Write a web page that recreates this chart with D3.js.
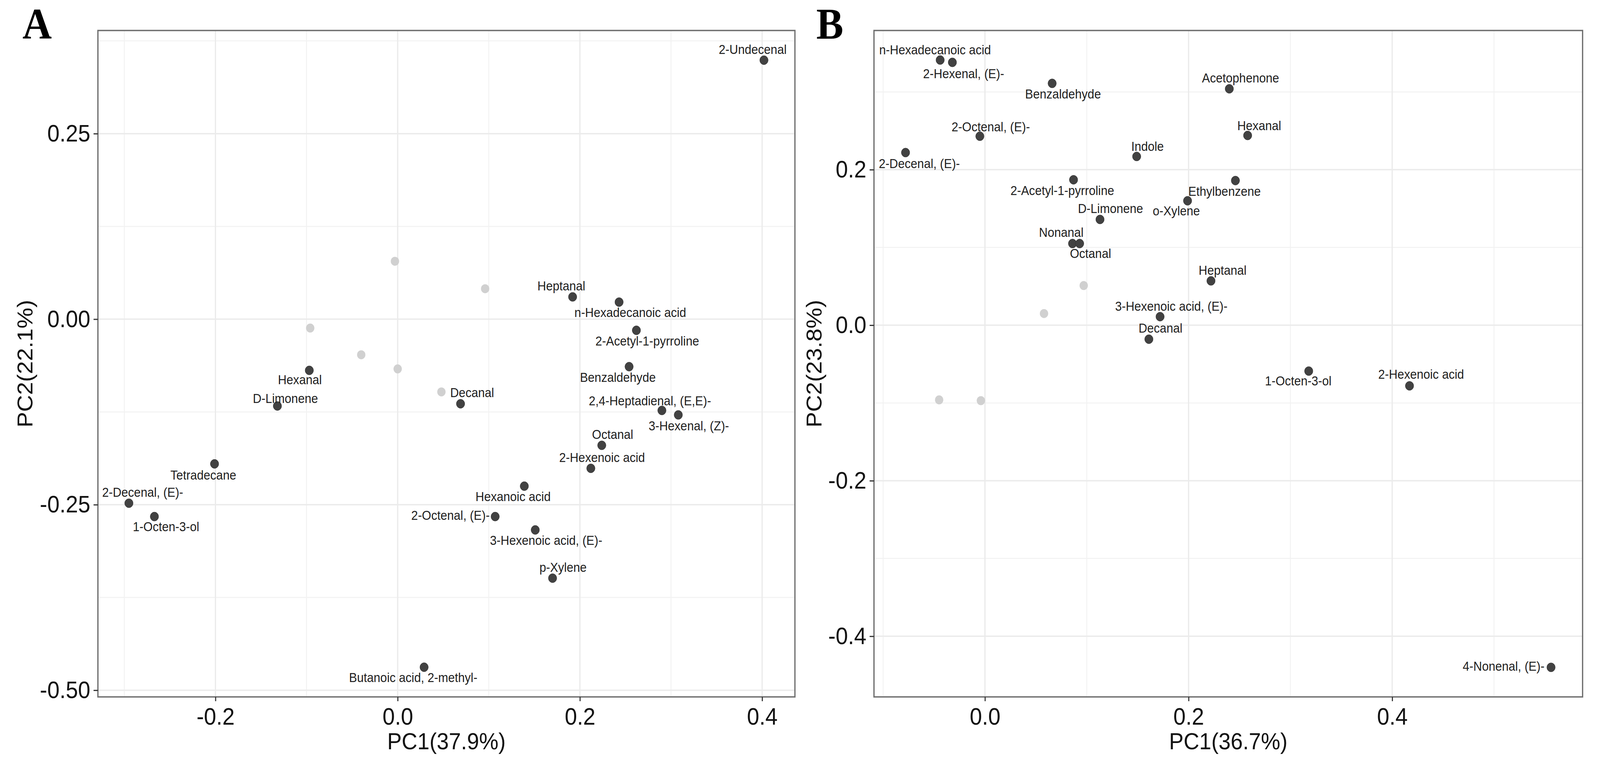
<!DOCTYPE html>
<html><head><meta charset="utf-8">
<script src="https://cdn.jsdelivr.net/npm/d3@7"></script>
<style>html,body{margin:0;padding:0;background:#fff;overflow:hidden;} svg{display:block}</style>
</head><body>
<svg id="chart" viewBox="0 0 4412 1947" preserveAspectRatio="none"></svg>
<script>
// ---------- Panel A data ----------
const namesA = ["2-Undecenal","Heptanal","n-Hexadecanoic acid","2-Acetyl-1-pyrroline","Benzaldehyde","Decanal","2,4-Heptadienal, (E,E)-","3-Hexenal, (Z)-","Octanal","2-Hexenoic acid","Hexanoic acid","Hexanal","D-Limonene","Tetradecane","2-Decenal, (E)-","1-Octen-3-ol","2-Octenal, (E)-","3-Hexenoic acid, (E)-","p-Xylene","Butanoic acid, 2-methyl-"];
const pc1A = [0.402,0.192,0.243,0.262,0.254,0.069,0.290,0.308,0.224,0.212,0.139,-0.097,-0.132,-0.201,-0.295,-0.267,0.107,0.151,0.170,0.029];
const pc2A = [0.349,0.030,0.023,-0.015,-0.064,-0.114,-0.123,-0.129,-0.170,-0.201,-0.225,-0.069,-0.117,-0.195,-0.248,-0.266,-0.266,-0.284,-0.349,-0.469];
const grayPc1A = [-0.003,-0.096,-0.040,0.000,0.096,0.048];
const grayPc2A = [0.078,-0.012,-0.048,-0.067,0.041,-0.098];
const xTicksA = [-0.2,0.0,0.2,0.4];
const xTickLabelsA = ["-0.2","0.0","0.2","0.4"];
const yTicksA = [-0.5,-0.25,0.0,0.25];
const yTickLabelsA = ["-0.50","-0.25","0.00","0.25"];

// ---------- Panel B data ----------
const namesB = ["n-Hexadecanoic acid","2-Hexenal, (E)-","Benzaldehyde","2-Octenal, (E)-","2-Decenal, (E)-","Indole","2-Acetyl-1-pyrroline","Ethylbenzene","o-Xylene","D-Limonene","Nonanal","Octanal","Acetophenone","Hexanal","3-Hexenoic acid, (E)-","Decanal","Heptanal","1-Octen-3-ol","2-Hexenoic acid","4-Nonenal, (E)-"];
const pc1B = [-0.044,-0.032,0.066,-0.005,-0.078,0.149,0.087,0.246,0.199,0.113,0.086,0.093,0.240,0.258,0.172,0.161,0.222,0.318,0.417,0.556];
const pc2B = [0.341,0.338,0.311,0.243,0.222,0.217,0.187,0.186,0.160,0.136,0.105,0.105,0.304,0.244,0.011,-0.018,0.057,-0.059,-0.078,-0.440];
const grayPc1B = [0.097,0.058,-0.045,-0.004];
const grayPc2B = [0.051,0.015,-0.096,-0.097];
const xTicksB = [0.0,0.2,0.4];
const xTickLabelsB = ["0.0","0.2","0.4"];
const yTicksB = [-0.4,-0.2,0.0,0.2];
const yTickLabelsB = ["-0.4","-0.2","0.0","0.2"];

// ---------- label placement (repel offsets, px) ----------
const labelDxA = [-31,-31,31,30,-31,32,-33,29,30,31,-31,-26,22,-31,38,32,-15,30,29,-30];
const labelDyA = [-16,-17,38,39,39,-17,-13,39,-16,-16,38,35,-8,40,-16,37,8,38,-16,38];
const labelAnchorA = namesA.map((d,i)=> i===16 ? "end" : "middle");
const labelDxB = [-14,31,30,30,38,30,-31,-30,-31,29,-31,30,31,32,31,32,32,-29,32,-18];
const labelDyB = [-15,40,39,-13,40,-14,39,39,37,-16,-17,37,-16,-14,-15,-17,-16,37,-18,9];
const labelAnchorB = namesB.map((d,i)=> i===19 ? "end" : "middle");

const W = 4412, H = 1947;
const vw = window.innerWidth || W, vh = window.innerHeight || H;
const svg = d3.select("#chart").attr("width", vw).attr("height", vh);
svg.append("rect").attr("width",W).attr("height",H).attr("fill","#fff");
const FONT = "'Liberation Sans', Arial, Helvetica, sans-serif";

function drawPanel(p) {
  const g = svg.append("g");
  const x = d3.scaleLinear().domain(p.xDomain).range([p.left, p.right]);
  const y = d3.scaleLinear().domain(p.yDomain).range([p.bottom, p.top]);

  // minor grid
  g.selectAll(".vmin").data(p.xMinor).join("line")
    .attr("x1", d=>x(d)).attr("x2", d=>x(d)).attr("y1", p.top).attr("y2", p.bottom)
    .attr("stroke", "#f2f2f2").attr("stroke-width", 2.5);
  g.selectAll(".hmin").data(p.yMinor).join("line")
    .attr("y1", d=>y(d)).attr("y2", d=>y(d)).attr("x1", p.left).attr("x2", p.right)
    .attr("stroke", "#f2f2f2").attr("stroke-width", 2.5);
  // major grid
  g.selectAll(".vmaj").data(p.xTicks).join("line")
    .attr("x1", d=>x(d)).attr("x2", d=>x(d)).attr("y1", p.top).attr("y2", p.bottom)
    .attr("stroke", "#ebebeb").attr("stroke-width", 3.5);
  g.selectAll(".hmaj").data(p.yTicks).join("line")
    .attr("y1", d=>y(d)).attr("y2", d=>y(d)).attr("x1", p.left).attr("x2", p.right)
    .attr("stroke", "#ebebeb").attr("stroke-width", 3.5);

  // gray points
  const gray = p.grayX.map((v,i)=>({x:v, y:p.grayY[i]}));
  g.selectAll(".gp").data(gray).join("circle")
    .attr("cx", d=>x(d.x)).attr("cy", d=>y(d.y)).attr("r", 11.5)
    .attr("fill", "#d0d0d0");

  // dark points
  const pts = p.names.map((n,i)=>({name:n, x:p.pc1[i], y:p.pc2[i], dx:p.ldx[i], dy:p.ldy[i], anchor:p.lanchor[i]}));
  g.selectAll(".dp").data(pts).join("circle")
    .attr("cx", d=>x(d.x)).attr("cy", d=>y(d.y)).attr("r", 11.5)
    .attr("fill", "#424242").attr("stroke", "#333").attr("stroke-width", 1);

  // labels
  g.selectAll(".lb").data(pts).join("text")
    .attr("x", d=>x(d.x)+d.dx).attr("y", d=>y(d.y)+d.dy)
    .attr("text-anchor", d=>d.anchor)
    .attr("font-family", FONT).attr("font-size", 33).attr("fill", "#1e1e1e")
    .text(d=>d.name);

  // border
  g.append("rect").attr("x", p.left).attr("y", p.top)
    .attr("width", p.right-p.left).attr("height", p.bottom-p.top)
    .attr("fill", "none").attr("stroke", "#6f6f6f").attr("stroke-width", 3.5);

  // axes
  const xa = g.append("g").attr("transform", `translate(0,${p.bottom})`)
    .call(d3.axisBottom(x).tickValues(p.xTicks).tickFormat((d,i)=>p.xTickLabels[i]).tickSize(11).tickPadding(17));
  const ya = g.append("g").attr("transform", `translate(${p.left},0)`)
    .call(d3.axisLeft(y).tickValues(p.yTicks).tickFormat((d,i)=>p.yTickLabels[i]).tickSize(12).tickPadding(9));
  [xa, ya].forEach(a => {
    a.select(".domain").remove();
    a.selectAll(".tick line").attr("stroke", "#333").attr("stroke-width", 3);
    a.selectAll(".tick text").attr("font-family", FONT).attr("font-size", 61).attr("fill", "#111");
  });

  // axis titles
  g.append("text").attr("x", (p.left+p.right)/2).attr("y", 1917)
    .attr("text-anchor", "middle").attr("font-family", FONT).attr("font-size", 60).attr("fill", "#111")
    .text(p.xTitle);
  const cy = (p.top+p.bottom)/2;
  g.append("text").attr("transform", `translate(${p.yTitleX},${cy}) rotate(-90)`)
    .attr("text-anchor", "middle").attr("font-family", FONT).attr("font-size", 60).attr("fill", "#111")
    .text(p.yTitle);

  // panel letter
  g.append("text").attr("x", p.letterX).attr("y", 99)
    .attr("font-family", "'Liberation Serif', 'Times New Roman', serif").attr("font-weight", "bold")
    .attr("font-size", 112).attr("fill", "#000").text(p.letter);
}

drawPanel({
  left: 270, right: 2192, top: 78, bottom: 1783,
  xDomain: [-0.329, 0.436], yDomain: [-0.509, 0.389],
  xTicks: xTicksA, xTickLabels: xTickLabelsA, yTicks: yTicksA, yTickLabels: yTickLabelsA,
  xMinor: [-0.3,-0.1,0.1,0.3], yMinor: [-0.375,-0.125,0.125,0.375],
  names: namesA, pc1: pc1A, pc2: pc2A, grayX: grayPc1A, grayY: grayPc2A,
  ldx: labelDxA, ldy: labelDyA, lanchor: labelAnchorA,
  xTitle: "PC1(37.9%)", yTitle: "PC2(22.1%)", yTitleX: 89,
  letter: "A", letterX: 62
});

drawPanel({
  left: 2410, right: 4364, top: 78, bottom: 1783,
  xDomain: [-0.109, 0.587], yDomain: [-0.478, 0.379],
  xTicks: xTicksB, xTickLabels: xTickLabelsB, yTicks: yTicksB, yTickLabels: yTickLabelsB,
  xMinor: [-0.1,0.1,0.3,0.5], yMinor: [-0.3,-0.1,0.1,0.3],
  names: namesB, pc1: pc1B, pc2: pc2B, grayX: grayPc1B, grayY: grayPc2B,
  ldx: labelDxB, ldy: labelDyB, lanchor: labelAnchorB,
  xTitle: "PC1(36.7%)", yTitle: "PC2(23.8%)", yTitleX: 2265,
  letter: "B", letterX: 2251
});
</script>
</body></html>
